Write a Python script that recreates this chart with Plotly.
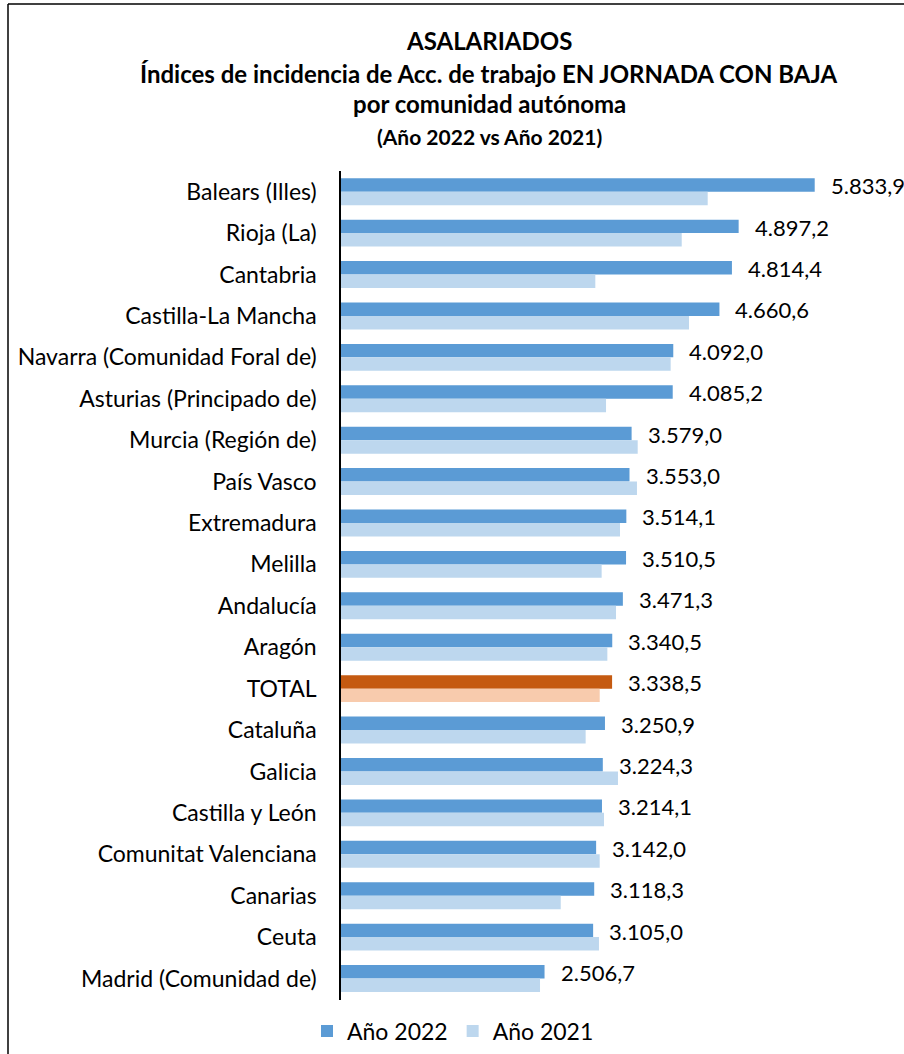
import plotly.graph_objects as go

categories = ["Balears (Illes)", "Rioja (La)", "Cantabria", "Castilla-La Mancha",
              "Navarra (Comunidad Foral de)", "Asturias (Principado de)", "Murcia (Región de)",
              "País Vasco", "Extremadura", "Melilla", "Andalucía", "Aragón", "TOTAL",
              "Cataluña", "Galicia", "Castilla y León", "Comunitat Valenciana", "Canarias",
              "Ceuta", "Madrid (Comunidad de)"]
v2022 = [5833.9, 4897.2, 4814.4, 4660.6, 4092.0, 4085.2, 3579.0, 3553.0, 3514.1, 3510.5,
         3471.3, 3340.5, 3338.5, 3250.9, 3224.3, 3214.1, 3142.0, 3118.3, 3105.0, 2506.7]
v2021 = [4516, 4196, 3132, 4286, 4060, 3264, 3654, 3645, 3436, 3210,
         3387, 3280, 3186, 3013, 3411, 3239, 3186, 2706, 3177, 2451]
series_names = ["Año 2022", "Año 2021"]
title_lines = ["ASALARIADOS",
               "Índices de incidencia de Acc. de trabajo EN JORNADA CON BAJA",
               "por comunidad autónoma",
               "(Año 2022 vs Año 2021)"]

BLUE, LBLUE = "#5B9BD5", "#BDD7EE"
ORANGE, LORANGE = "#C55A11", "#F8CBAD"
FONT = "Lato"

W, H = 904, 1054
ML, MR, MT, MB = 341, 20, 171, 54
PW, PH = W - ML - MR, H - MT - MB

def px_x(p):
    return (p - ML) / PW

def px_y(p):
    return (H - MB - p) / PH

def fmt(v):
    s = f"{v:,.1f}"
    return s.replace(",", "X").replace(".", ",").replace("X", ".")

c22 = [ORANGE if c == "TOTAL" else BLUE for c in categories]
c21 = [LORANGE if c == "TOTAL" else LBLUE for c in categories]

fig = go.Figure()
fig.add_trace(go.Bar(y=categories, x=v2022, orientation="h", name=series_names[0],
                     marker=dict(color=c22, line=dict(width=0))))
fig.add_trace(go.Bar(y=categories, x=v2021, orientation="h", name=series_names[1],
                     marker=dict(color=c21, line=dict(width=0))))

annotations = []
for c, v in zip(categories, v2022):
    annotations.append(dict(x=v, y=c, xref="x", yref="y", text=fmt(v), showarrow=False,
                            xanchor="left", yanchor="middle", xshift=14, yshift=6,
                            font=dict(family=FONT, size=22, color="#000000")))

title_y = [41, 73, 104, 136]
title_sizes = [24, 24, 24, 21]
for t, yy, sz in zip(title_lines, title_y, title_sizes):
    annotations.append(dict(x=px_x(489), y=px_y(yy), xref="paper", yref="paper", text=f"<b>{t}</b>",
                            showarrow=False, xanchor="center", yanchor="middle",
                            font=dict(family=FONT, size=sz, color="#000000")))

shapes = [
    dict(type="line", xref="paper", yref="paper", x0=px_x(8), x1=px_x(8), y0=px_y(4), y1=px_y(1070),
         line=dict(color="#000000", width=1.5)),
    dict(type="line", xref="paper", yref="paper", x0=px_x(8), x1=px_x(920), y0=px_y(4), y1=px_y(4),
         line=dict(color="#000000", width=1.5)),
]

fig.update_layout(
    width=W, height=H,
    margin=dict(l=ML, r=MR, t=MT, b=MB, autoexpand=False),
    paper_bgcolor="white", plot_bgcolor="white",
    barmode="group", bargap=0.35, bargroupgap=0,
    font=dict(family=FONT, size=20, color="#000000"),
    showlegend=True,
    legend=dict(orientation="h", x=px_x(453), y=px_y(1031), xanchor="center", yanchor="middle",
                font=dict(family=FONT, size=23, color="#000000"), traceorder="normal",
                itemwidth=30),
    annotations=annotations,
    shapes=shapes,
)
fig.update_xaxes(range=[0, PW / 0.0812], showgrid=False, zeroline=False, showticklabels=False,
                 showline=False, ticks="")
fig.update_yaxes(autorange="reversed", showgrid=False, zeroline=False, showline=True,
                 linecolor="#000000", linewidth=1.5, ticks="", ticklabelstandoff=18,
                 tickfont=dict(family=FONT, size=23, color="#000000"))

fig.write_html("out.html", config={"displayModeBar": False},
               post_script="document.body.style.margin='0px';document.body.style.overflow='hidden';")
